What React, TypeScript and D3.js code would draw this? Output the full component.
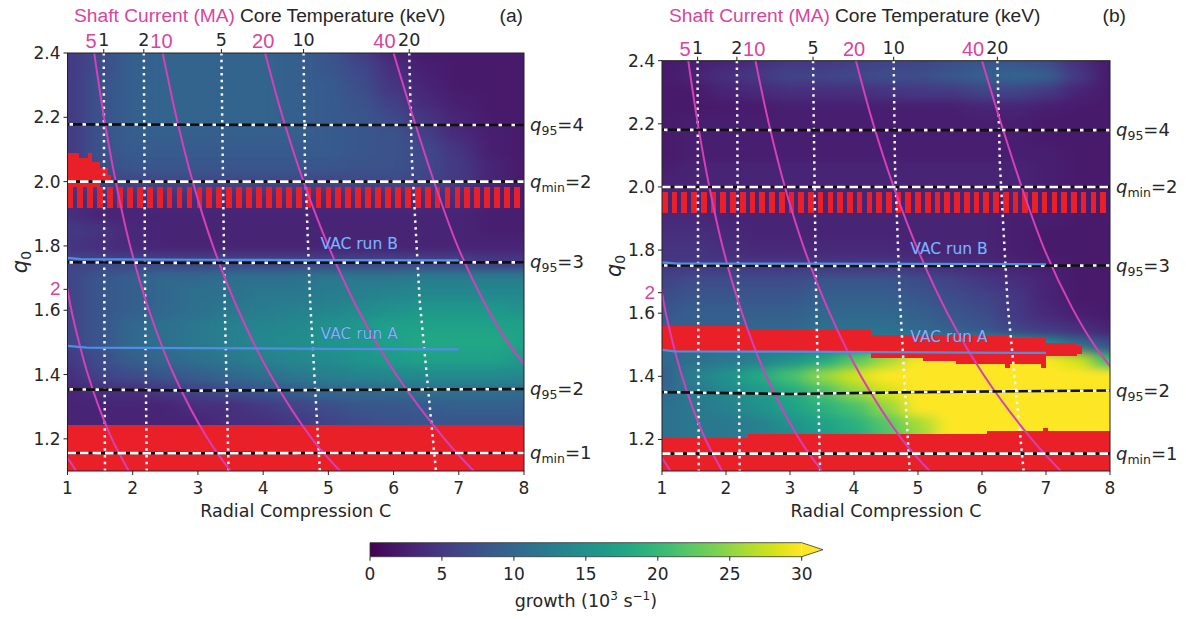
import React from "react";
import * as d3 from "d3";

// ---------- DATA ----------
const C_NODES = [1, 1.5, 2, 2.5, 3, 3.5, 4, 4.5, 5, 5.5, 6, 6.5, 7, 7.5, 8];
const Q_NODES = [2.4, 2.35, 2.3, 2.25, 2.2, 2.15, 2.1, 2.05, 2.0, 1.95, 1.9, 1.85, 1.8, 1.75, 1.7, 1.65, 1.6, 1.55, 1.5, 1.45, 1.4, 1.35, 1.3, 1.25, 1.2, 1.15, 1.1];

// growth (10^3 s^-1), rows = Q_NODES, cols = C_NODES
const GROWTH_A = [
  [5, 7, 9, 9.5, 9.5, 9.5, 9.5, 9, 8, 5.5, 3, 2, 2, 2, 2],
  [5, 7, 9, 9.5, 9.5, 9.5, 9.5, 9, 8, 6.5, 4, 2.5, 2, 2, 2],
  [5, 7.5, 9, 9.5, 9.5, 9.5, 9.5, 9, 8.5, 7, 4.5, 3, 2, 2, 2],
  [5, 7.5, 9, 9.5, 9.5, 9.5, 9.5, 9, 8.5, 7.5, 5.5, 3.5, 2.5, 2, 2],
  [5, 7.5, 9, 9.5, 9.5, 9.5, 9.5, 9, 8.5, 8, 6.5, 4.5, 3, 2, 2],
  [5, 7.5, 9, 9, 9, 9, 9, 9, 8.5, 8, 7.5, 5.5, 3.5, 2.5, 2],
  [5, 7.5, 8.5, 8.5, 8.5, 8.5, 8.5, 8.5, 8.5, 8, 7.5, 6.5, 4.5, 2.5, 2],
  [5, 7, 8, 8, 8, 8, 8, 8, 8, 7.5, 7.5, 6.5, 5, 3, 2],
  [5, 6, 6.5, 6.5, 6.5, 6.5, 6.5, 6.5, 6.5, 6.5, 6.5, 6, 5, 3, 2],
  [4, 4, 4, 4, 4, 4, 4, 4, 4, 4, 4, 4, 4, 3, 2.5],
  [4, 3, 3, 3, 3, 3, 3, 3, 3, 3, 3, 3, 3, 2.5, 2.5],
  [5, 4.5, 3.5, 3, 3, 3, 3, 3, 3, 3, 3, 3, 3, 2.5, 2.5],
  [4.5, 4, 3.5, 3, 3, 3, 3, 3, 3, 3, 3, 3, 3, 3, 3],
  [6, 6, 6, 6, 6, 6, 6, 6, 6, 6, 6, 6, 6, 5, 5],
  [6, 8, 9, 10, 10, 11, 11, 11, 12, 12, 12, 12.5, 12.5, 12.5, 12.5],
  [6, 8, 9, 10, 11, 11, 12, 12, 12.5, 13, 13.5, 14, 14, 14, 14],
  [6, 8, 9, 10, 11, 12, 12.5, 13, 13.5, 14.5, 15, 16, 16, 16, 15],
  [6, 8, 10, 11, 12, 13, 13.5, 14, 15, 16, 17, 17, 17, 17, 17],
  [6, 8, 10, 11, 12, 13, 14, 14.5, 15.5, 16, 17, 18, 18, 18, 17],
  [5, 7, 9, 10, 11, 12, 13, 14, 14.5, 15.5, 16.5, 17, 17, 17, 16],
  [4, 6, 7, 8, 9, 10, 11, 12, 13, 13.5, 14, 14.5, 14.5, 14.5, 14],
  [3, 4, 4, 5, 6, 7, 8, 9, 10, 10, 10.5, 11, 11, 11, 10.5],
  [3, 3, 3, 3, 4, 4, 5, 6, 7, 8, 8, 8.5, 9, 9, 9],
  [3, 3, 3, 3, 3, 4, 4, 5, 6, 7, 7.5, 8, 8, 8, 8],
  [3, 3, 3, 3, 3, 4, 4, 5, 6, 7, 7.5, 8, 8, 8, 8],
  [3, 3, 3, 3, 3, 4, 4, 5, 6, 7, 7.5, 8, 8, 8, 8],
  [3, 3, 3, 3, 3, 4, 4, 5, 6, 7, 7.5, 8, 8, 8, 8],
];

const GROWTH_B = [
  [2, 2.5, 3, 4, 5, 5, 5.5, 6, 6, 7, 8, 8, 7, 4, 2],
  [2, 3, 4, 5, 6, 6, 6.5, 7, 7, 8, 9, 9.5, 9, 5, 2],
  [2, 2, 3, 3.5, 4, 4, 4, 4.5, 5, 5, 6, 6, 5, 3, 2],
  [2, 2, 2, 2, 2.5, 2.5, 2.5, 2.5, 2.5, 2.5, 3, 3, 2.5, 2, 2],
  [2, 2.5, 2.5, 2.5, 2.5, 2.5, 2.5, 2.5, 2.5, 2.5, 2.5, 2.5, 2, 2, 2],
  [2, 2.5, 2.5, 2.5, 2.5, 2.5, 2.5, 2.5, 2.5, 2.5, 2.5, 2.5, 2, 2, 2],
  [2, 2.5, 2.5, 2.5, 2.5, 2.5, 2.5, 2.5, 2.5, 2.5, 2.5, 2.5, 2.5, 2, 2],
  [2.5, 3, 3, 3, 3, 3, 3, 3, 3, 3, 3, 3, 2.5, 2, 2],
  [3, 3, 3, 3, 3, 3, 3, 3, 3, 3, 3, 3, 2.5, 2, 2],
  [3, 3, 3, 3, 3, 3, 3, 3, 3, 3, 3, 3, 2.5, 2.5, 2],
  [3.5, 3.5, 3, 3, 3, 3, 3, 3, 3, 3, 3, 2.5, 2.5, 2, 2],
  [4, 4, 3.5, 3, 3, 3, 3, 3, 3, 3, 3, 2.5, 2, 2, 2],
  [4.5, 4.5, 4, 3.5, 3.5, 3.5, 3.5, 3.5, 3, 3, 3, 2.5, 2, 2, 2],
  [5, 5, 5, 5, 5, 5, 5, 5, 4.5, 4, 3.5, 3, 2.5, 2, 2],
  [6, 7, 7, 7, 7, 8, 8, 8, 7, 6, 5, 4, 3, 2, 2],
  [7, 8, 8, 8, 8, 9, 9, 9, 8, 7, 6, 5, 3, 2, 2],
  [8, 9, 9, 9, 9, 10, 10, 10, 9, 8, 7, 5, 3.5, 2.5, 2],
  [9, 9, 9, 10, 10, 11, 11, 11, 10, 9, 8, 6, 5, 4, 3],
  [10, 10, 11, 11, 12, 12, 13, 14, 15, 16, 17, 17, 15, 11, 7],
  [10, 11, 12, 13, 15, 18, 22, 26, 30, 33, 33, 33, 33, 28, 20],
  [9, 13, 15, 18, 21, 25, 28, 31, 33, 33, 33, 33, 33, 33, 33],
  [10, 12, 14, 16, 18, 21, 25, 28, 33, 33, 33, 33, 33, 33, 33],
  [11, 12, 13, 15, 17, 19, 21, 25, 31, 33, 33, 33, 33, 33, 33],
  [11, 12, 12, 13, 15, 17, 19, 22, 26, 31, 33, 33, 33, 33, 33],
  [11, 12, 12, 13, 14, 16, 18, 21, 25, 30, 33, 33, 33, 33, 33],
  [11, 12, 12, 13, 14, 16, 18, 21, 25, 30, 33, 33, 33, 33, 33],
  [11, 12, 12, 13, 14, 16, 18, 21, 25, 30, 33, 33, 33, 33, 33],
];

// unstable (red) regions: C range and q range
const RED_A = [
  { c0: 1, c1: 8, q0: 1.1, q1: 1.242 },
  { c0: 1.0, c1: 1.17, q0: 1.984, q1: 2.089 },
  { c0: 1.17, c1: 1.32, q0: 1.984, q1: 2.073 },
  { c0: 1.32, c1: 1.37, q0: 1.984, q1: 2.089 },
  { c0: 1.37, c1: 1.5, q0: 1.984, q1: 2.062 },
  { c0: 1.5, c1: 1.62, q0: 2.0, q1: 2.042 },
  { c0: 1.62, c1: 1.66, q0: 2.0, q1: 2.02 },
];
const RED_B = [
  { c0: 1.0, c1: 2.31, q0: 1.479, q1: 1.561 },
  { c0: 2.31, c1: 4.27, q0: 1.479, q1: 1.547 },
  { c0: 4.27, c1: 5.08, q0: 1.458, q1: 1.532 },
  { c0: 5.08, c1: 5.6, q0: 1.447, q1: 1.532 },
  { c0: 5.6, c1: 6.43, q0: 1.439, q1: 1.532 },
  { c0: 6.43, c1: 7.0, q0: 1.439, q1: 1.521 },
  { c0: 7.0, c1: 7.48, q0: 1.463, q1: 1.505 },
  { c0: 7.48, c1: 7.56, q0: 1.472, q1: 1.497 },
  { c0: 6.36, c1: 6.44, q0: 1.426, q1: 1.44 },
  { c0: 6.92, c1: 7.0, q0: 1.426, q1: 1.44 },
  { c0: 1.0, c1: 2.34, q0: 1.1, q1: 1.205 },
  { c0: 2.34, c1: 6.08, q0: 1.1, q1: 1.216 },
  { c0: 6.08, c1: 8.0, q0: 1.1, q1: 1.226 },
  { c0: 6.96, c1: 7.03, q0: 1.226, q1: 1.236 },
];
const STRIPE_BAND = { c0: 1, c1: 8, q0: 1.917, q1: 1.984, columns: 46, duty: 0.58 };

// shaft current contours (MA): [C, q0]
const CURRENT_LINES = [
  { label: "1", pts: [[1.0, 1.14], [1.07, 1.12], [1.13, 1.1]] },
  { label: "2", pts: [[0.97, 1.7], [1.0, 1.665], [1.06, 1.6], [1.177, 1.5], [1.313, 1.4], [1.479, 1.3], [1.68, 1.2], [1.94, 1.1]] },
  { label: "5", pts: [[1.41, 2.4], [1.56, 2.2], [1.74, 2.0], [1.96, 1.8], [2.25, 1.6], [2.63, 1.4], [3.15, 1.2], [3.5, 1.1]] },
  { label: "10", pts: [[2.46, 2.4], [2.67, 2.2], [2.92, 2.0], [3.23, 1.8], [3.62, 1.6], [4.11, 1.4], [4.75, 1.2], [5.18, 1.1]] },
  { label: "20", pts: [[4.03, 2.4], [4.3, 2.2], [4.62, 2.0], [5.0, 1.8], [5.46, 1.6], [6.04, 1.4], [6.78, 1.2], [7.23, 1.1]] },
  { label: "40", pts: [[6.0, 2.4], [6.3, 2.2], [6.62, 2.0], [6.98, 1.8], [7.4, 1.62], [7.75, 1.5], [8.05, 1.42]] },
];
const CURRENT_TICKS = [
  { label: "5", c: 1.36 },
  { label: "10", c: 2.44 },
  { label: "20", c: 4.0 },
  { label: "40", c: 5.86 },
];
const CURRENT_LEFT_TICK = { label: "2", q: 1.665 };

// core temperature contours (keV): [C, q0]
const TEMP_LINES = [
  { label: "1", pts: [[1.556, 2.4], [1.56, 2.07], [1.565, 1.63], [1.575, 1.1]] },
  { label: "2", pts: [[2.17, 2.4], [2.18, 2.07], [2.19, 1.63], [2.215, 1.1]] },
  { label: "5", pts: [[3.36, 2.4], [3.38, 2.07], [3.41, 1.63], [3.47, 1.1]] },
  { label: "10", pts: [[4.62, 2.4], [4.64, 2.07], [4.72, 1.63], [4.87, 1.1]] },
  { label: "20", pts: [[6.24, 2.4], [6.28, 2.07], [6.4, 1.63], [6.65, 1.1]] },
];

// q reference levels, q sampled at these C values
const Q_LEVEL_C = [1, 3, 5, 8];
const Q_LEVELS_A = [
  { kind: "q95", sub: "95", val: "4", q: [2.178, 2.177, 2.176, 2.176] },
  { kind: "qmin", sub: "min", val: "2", q: [2.0, 2.0, 2.0, 2.0] },
  { kind: "q95", sub: "95", val: "3", q: [1.749, 1.747, 1.748, 1.749] },
  { kind: "q95", sub: "95", val: "2", q: [1.354, 1.35, 1.352, 1.355] },
  { kind: "qmin", sub: "min", val: "1", q: [1.156, 1.155, 1.156, 1.156] },
];
const Q_LEVELS_B = [
  { kind: "q95", sub: "95", val: "4", q: [2.181, 2.18, 2.18, 2.18] },
  { kind: "qmin", sub: "min", val: "2", q: [2.0, 2.0, 2.0, 2.0] },
  { kind: "q95", sub: "95", val: "3", q: [1.751, 1.75, 1.75, 1.751] },
  { kind: "q95", sub: "95", val: "2", q: [1.35, 1.344, 1.35, 1.355] },
  { kind: "qmin", sub: "min", val: "1", q: [1.155, 1.155, 1.155, 1.155] },
];

// VAC runs: [C, q0]
const VAC_A_RUN_A = [[1, 1.489], [1.3, 1.484], [3, 1.482], [5, 1.48], [7, 1.478]];
const VAC_A_RUN_B = [[1, 1.763], [1.2, 1.759], [3, 1.757], [5, 1.756], [7, 1.755]];
const VAC_B_RUN_A = [[1, 1.484], [1.2, 1.479], [3, 1.478], [5, 1.476], [7, 1.474]];
const VAC_B_RUN_B = [[1, 1.761], [1.2, 1.758], [3, 1.757], [5, 1.756], [7, 1.755]];
const VAC_LABEL_C = 4.88;

const X_TICKS = [1, 2, 3, 4, 5, 6, 7, 8];
const Y_TICKS = [1.2, 1.4, 1.6, 1.8, 2.0, 2.2, 2.4];
const CBAR_TICKS = [0, 5, 10, 15, 20, 25, 30];

// ---------- STYLE ----------
const FONT = "'DejaVu Sans', sans-serif";
const FONT2 = "'Liberation Sans', Arial, sans-serif";
const MAG_LINE = "#d53fb8";
const MAG_TEXT = "#d9449e";
const RED = "#ea2029";
const INK = "#262626";

const viridis = (v: number) => d3.interpolateViridis(Math.max(0, Math.min(1, v / 30)));

type Cfg = {
  id: string; x0: number; x1: number; yTop: number; yBot: number;
  grid: number[][]; red: { c0: number; c1: number; q0: number; q1: number }[];
  levels: typeof Q_LEVELS_A; runA: number[][]; runB: number[][];
  tag: string; tagEnd: number; shaftX: number; coreX: number; ylabX: number;
};

function Panel({ cfg }: { cfg: Cfg }) {
  const xs = d3.scaleLinear().domain([1, 8]).range([cfg.x0, cfg.x1]);
  const ys = d3.scaleLinear().domain([1.1, 2.4]).range([cfg.yBot, cfg.yTop]);
  const lin = d3.line<number[]>().x((d) => xs(d[0])).y((d) => ys(d[1]));
  const smooth = d3.line<number[]>().x((d) => xs(d[0])).y((d) => ys(d[1])).curve(d3.curveCatmullRom);
  const clip = `clip-${cfg.id}`;
  const nR = Q_NODES.length, nC = C_NODES.length;

  const cells: JSX.Element[] = [];
  cfg.grid.forEach((row, i) =>
    row.forEach((v, j) => {
      const c = C_NODES[j], q = Q_NODES[i];
      const cl = j === 0 ? c - 1 : (C_NODES[j - 1] + c) / 2;
      const cr = j === nC - 1 ? c + 1 : (C_NODES[j + 1] + c) / 2;
      const qt = i === 0 ? q + 0.2 : (Q_NODES[i - 1] + q) / 2;
      const qb = i === nR - 1 ? q - 0.2 : (Q_NODES[i + 1] + q) / 2;
      const x = xs(cl), y = ys(qt);
      cells.push(<rect key={`${i}-${j}`} x={x} y={y} width={xs(cr) - x + 0.7} height={ys(qb) - y + 0.7} fill={viridis(v)} />);
    })
  );

  const band = STRIPE_BAND;
  const period = (band.c1 - band.c0) / band.columns;
  const stripes = d3.range(band.columns).map((k) => {
    const c = band.c0 + k * period;
    return (
      <rect key={k} x={xs(c)} y={ys(band.q1)} width={xs(c + period * band.duty) - xs(c)} height={ys(band.q0) - ys(band.q1)} fill={RED} />
    );
  });

  const cx = (cfg.x0 + cfg.x1) / 2;

  return (
    <g>
      <defs>
        <clipPath id={clip}>
          <rect x={cfg.x0} y={cfg.yTop} width={cfg.x1 - cfg.x0} height={cfg.yBot - cfg.yTop} />
        </clipPath>
        <filter id={`blur-${cfg.id}`} x="-10%" y="-10%" width="120%" height="120%" colorInterpolationFilters="sRGB">
          <feGaussianBlur stdDeviation="10 5" />
        </filter>
      </defs>
      <g clipPath={`url(#${clip})`}>
        <g filter={`url(#blur-${cfg.id})`} shapeRendering="crispEdges">{cells}</g>
        <g shapeRendering="crispEdges">
          {stripes}
          {cfg.red.map((r, k) => (
            <rect key={k} x={xs(r.c0)} y={ys(r.q1)} width={xs(r.c1) - xs(r.c0)} height={ys(r.q0) - ys(r.q1)} fill={RED} />
          ))}
        </g>
        {TEMP_LINES.map((t) => (
          <path key={t.label} d={lin(t.pts) || ""} fill="none" stroke="#f4f4ff" strokeWidth={2.5} strokeDasharray="2.5 4.2" />
        ))}
        {CURRENT_LINES.map((l) => (
          <path key={l.label} d={smooth(l.pts) || ""} fill="none" stroke={MAG_LINE} strokeWidth={2} />
        ))}
        {cfg.levels.map((lv, k) => {
          const pts = Q_LEVEL_C.map((c, m) => [c, lv.q[m]]);
          const d = lin(pts) || "";
          return lv.kind === "q95" ? (
            <g key={k}>
              <path d={d} fill="none" stroke="#111" strokeWidth={2.6} />
              <path d={d} fill="none" stroke="#fff" strokeWidth={2.6} strokeDasharray="3.5 9.5" strokeDashoffset={-2} />
            </g>
          ) : (
            <g key={k}>
              <path d={d} fill="none" stroke="#111" strokeWidth={2.6} />
              <path d={d} fill="none" stroke="#fff" strokeWidth={2.6} strokeDasharray="8.5 4" />
            </g>
          );
        })}
        <path d={lin(cfg.runB) || ""} fill="none" stroke="#4f8fe3" strokeWidth={2.2} />
        <path d={lin(cfg.runA) || ""} fill="none" stroke="#4f8fe3" strokeWidth={2.2} />
      </g>
      <text x={xs(VAC_LABEL_C)} y={ys(cfg.runB[4][1] + 0.034)} fontFamily={FONT} fontSize={15.5} fill="#7fb2ff" stroke="#2f4f8f" strokeWidth={0.5} paintOrder="stroke">VAC run B</text>
      <text x={xs(VAC_LABEL_C)} y={ys(cfg.runA[4][1] + 0.034)} fontFamily={FONT} fontSize={15.5} fill="#7fb2ff" stroke="#2f4f8f" strokeWidth={0.5} paintOrder="stroke">VAC run A</text>

      {/* frame */}
      <rect x={cfg.x0} y={cfg.yTop} width={cfg.x1 - cfg.x0} height={cfg.yBot - cfg.yTop} fill="none" stroke="#222" strokeWidth={1} />

      {/* left axis */}
      {Y_TICKS.map((t) => (
        <g key={t}>
          <line x1={cfg.x0 - 4} x2={cfg.x0} y1={ys(t)} y2={ys(t)} stroke="#222" />
          <text x={cfg.x0 - 7} y={ys(t) + 6} textAnchor="end" fontFamily={FONT} fontSize={17} fill={INK}>{t.toFixed(1)}</text>
        </g>
      ))}
      <line x1={cfg.x0 - 4} x2={cfg.x0} y1={ys(CURRENT_LEFT_TICK.q)} y2={ys(CURRENT_LEFT_TICK.q)} stroke="#222" />
      <text x={cfg.x0 - 7} y={ys(CURRENT_LEFT_TICK.q) + 6} textAnchor="end" fontFamily={FONT2} fontSize={19} fill={MAG_TEXT}>{CURRENT_LEFT_TICK.label}</text>
      <text transform={`translate(${cfg.ylabX},${(cfg.yTop + cfg.yBot) / 2}) rotate(-90)`} textAnchor="middle" fontFamily={FONT} fontSize={21} fill={INK}>
        <tspan fontStyle="italic">q</tspan>
        <tspan fontSize={14} dy={4}>0</tspan>
      </text>

      {/* bottom axis */}
      {X_TICKS.map((t) => (
        <g key={t}>
          <line x1={xs(t)} x2={xs(t)} y1={cfg.yBot} y2={cfg.yBot + 4} stroke="#222" />
          <text x={xs(t)} y={cfg.yBot + 23} textAnchor="middle" fontFamily={FONT} fontSize={17} fill={INK}>{t}</text>
        </g>
      ))}
      <text x={cx} y={cfg.yBot + 46} textAnchor="middle" fontFamily={FONT} fontSize={17.5} fill={INK}>Radial Compression C</text>

      {/* top axes */}
      {TEMP_LINES.map((t) => (
        <g key={t.label}>
          <line x1={xs(t.pts[0][0])} x2={xs(t.pts[0][0])} y1={cfg.yTop} y2={cfg.yTop - 4} stroke="#222" />
          <text x={xs(t.pts[0][0])} y={cfg.yTop - 7} textAnchor="middle" fontFamily={FONT} fontSize={17.5} fill={INK}>{t.label}</text>
        </g>
      ))}
      {CURRENT_TICKS.map((t) => (
        <text key={t.label} x={xs(t.c)} y={cfg.yTop - 5} textAnchor="middle" fontFamily={FONT2} fontSize={20} fill={MAG_TEXT}>{t.label}</text>
      ))}
      <text x={cfg.shaftX} y={22} fontFamily={FONT2} fontSize={19.2} fill={MAG_TEXT}>Shaft Current (MA)</text>
      <text x={cfg.coreX} y={22} fontFamily={FONT2} fontSize={19.2} fill={INK}>Core Temperature (keV)</text>
      <text x={cfg.tagEnd} y={22} textAnchor="end" fontFamily={FONT2} fontSize={19.2} fill={INK}>{cfg.tag}</text>

      {/* right labels */}
      {cfg.levels.map((lv, k) => (
        <text key={k} x={cfg.x1 + 6} y={ys(lv.q[3]) + 6} fontFamily={FONT} fontSize={18} fill={INK}>
          <tspan fontStyle="italic">q</tspan>
          <tspan fontSize={12.5} dy={4}>{lv.sub}</tspan>
          <tspan dy={-4}>={lv.val}</tspan>
        </text>
      ))}
    </g>
  );
}

const PANELS: Cfg[] = [
  { id: "a", x0: 67.5, x1: 524, yTop: 53, yBot: 471, grid: GROWTH_A, red: RED_A, levels: Q_LEVELS_A, runA: VAC_A_RUN_A, runB: VAC_A_RUN_B, tag: "(a)", tagEnd: 523, shaftX: 74, coreX: 240, ylabX: 27 },
  { id: "b", x0: 662, x1: 1110, yTop: 60.7, yBot: 471, grid: GROWTH_B, red: RED_B, levels: Q_LEVELS_B, runA: VAC_B_RUN_A, runB: VAC_B_RUN_B, tag: "(b)", tagEnd: 1126, shaftX: 669, coreX: 835, ylabX: 621 },
];

function Colorbar() {
  const x0 = 370, x1 = 801.7, y0 = 542.7, y1 = 556.7, tip = 823;
  const cs = d3.scaleLinear().domain([0, 30]).range([x0, x1]);
  const stops = d3.range(0, 1.0001, 0.05);
  return (
    <g>
      <defs>
        <linearGradient id="cbar" x1="0" x2="1" y1="0" y2="0">
          {stops.map((t) => (
            <stop key={t} offset={t} stopColor={d3.interpolateViridis(t)} />
          ))}
        </linearGradient>
      </defs>
      <rect x={x0} y={y0} width={x1 - x0} height={y1 - y0} fill="url(#cbar)" />
      <polygon points={`${x1},${y0} ${tip},${(y0 + y1) / 2} ${x1},${y1}`} fill="#fde725" />
      <path d={`M${x0},${y0}H${x1}L${tip},${(y0 + y1) / 2}L${x1},${y1}H${x0}Z`} fill="none" stroke="#333" strokeWidth={0.8} />
      {CBAR_TICKS.map((t) => (
        <g key={t}>
          <line x1={cs(t)} x2={cs(t)} y1={y1} y2={y1 + 4} stroke="#222" />
          <text x={cs(t)} y={y1 + 23} textAnchor="middle" fontFamily={FONT} fontSize={17} fill={INK}>{t}</text>
        </g>
      ))}
      <text x={(x0 + x1) / 2} y={607} textAnchor="middle" fontFamily={FONT} fontSize={17.5} fill={INK}>
        growth (10<tspan dy={-7} fontSize={12}>3</tspan>
        <tspan dy={7}> s</tspan>
        <tspan dy={-7} fontSize={12}>−1</tspan>
        <tspan dy={7}>)</tspan>
      </text>
    </g>
  );
}

export default function App() {
  return (
    <svg width={1186} height={619} viewBox="0 0 1186 619" style={{ position: "absolute", left: 0, top: 0, background: "#fff" }}>
      <rect x={0} y={0} width={1186} height={619} fill="#fff" />
      {PANELS.map((p) => (
        <Panel key={p.id} cfg={p} />
      ))}
      <Colorbar />
    </svg>
  );
}
